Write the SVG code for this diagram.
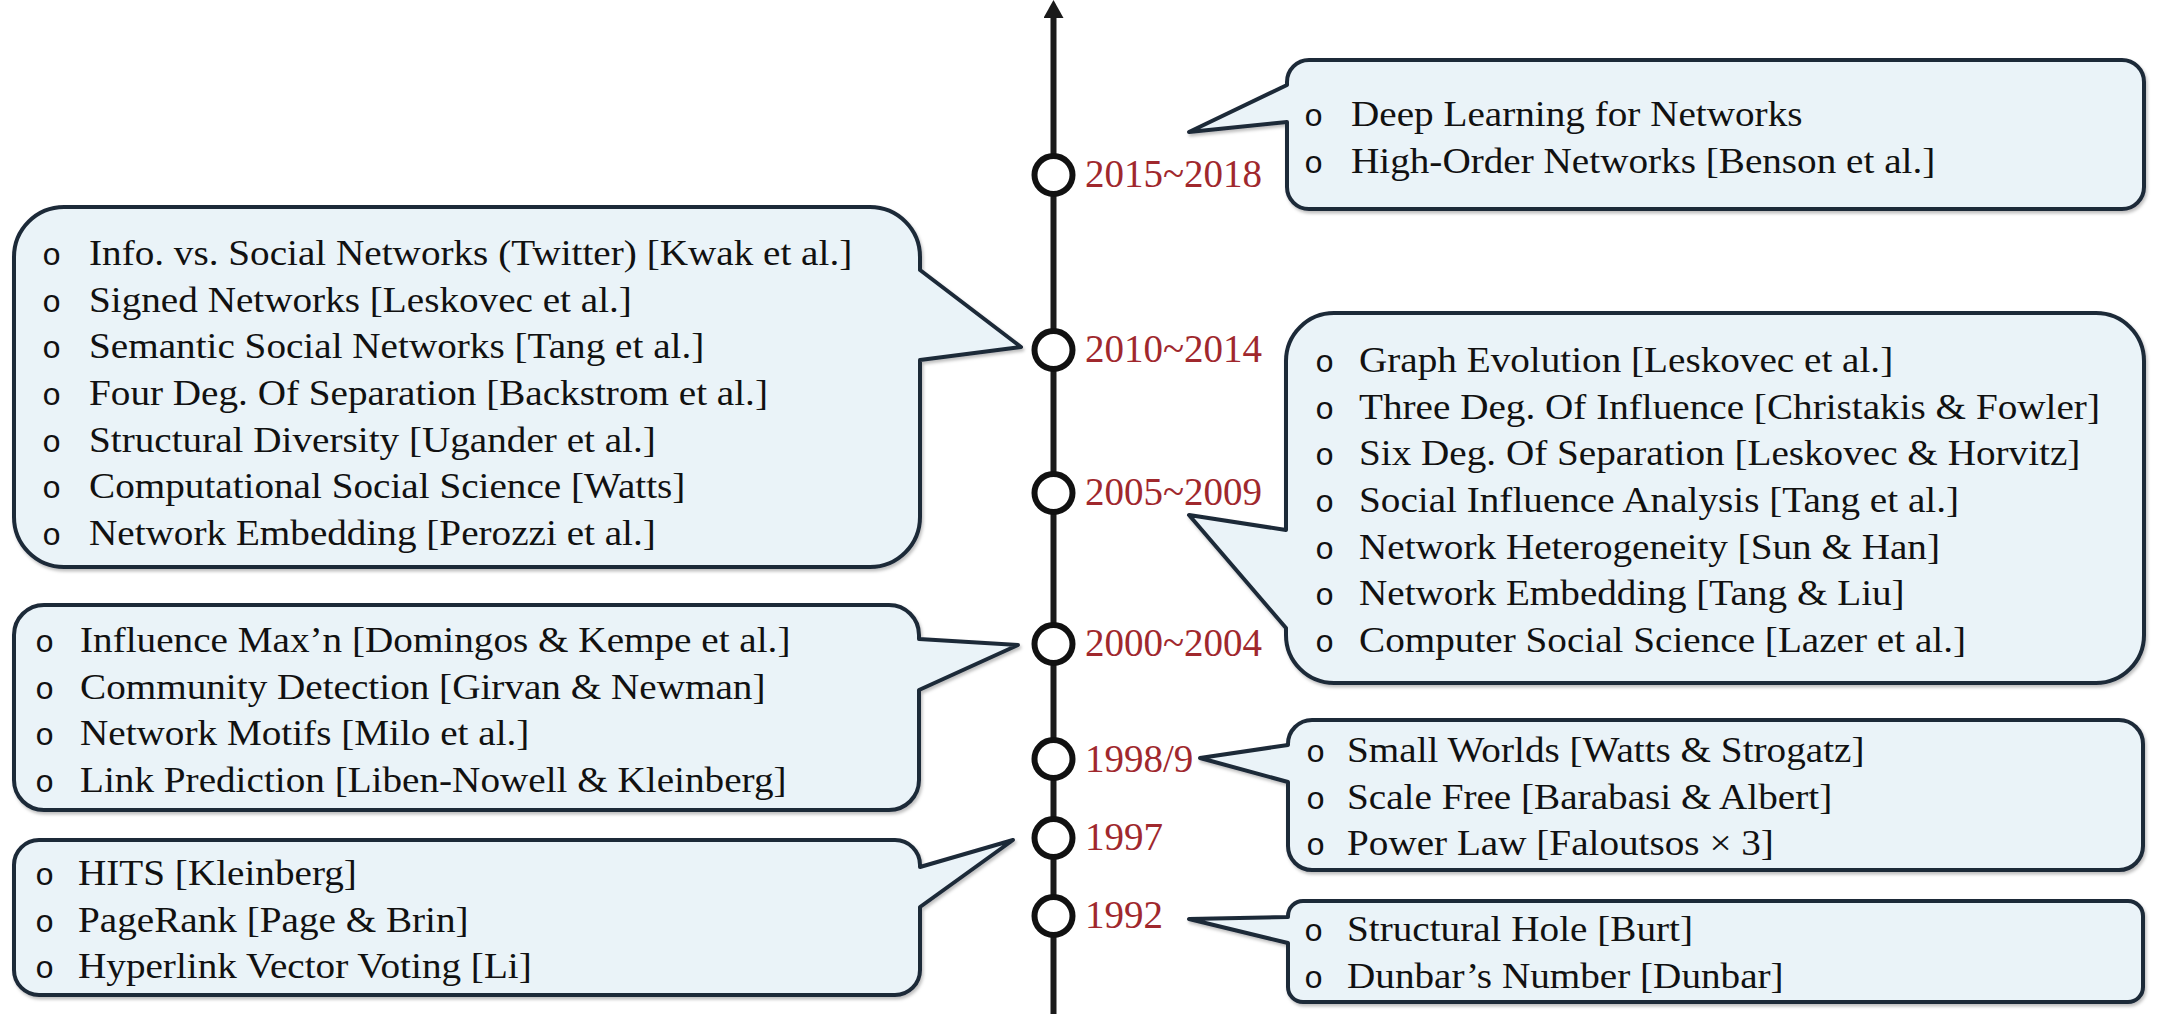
<svg xmlns="http://www.w3.org/2000/svg" width="2160" height="1014" viewBox="0 0 2160 1014">
<defs>
<style>
.box{fill:#eaf3f8;stroke:#1d2939;stroke-width:4;stroke-linejoin:round;filter:url(#sh)}
.t{font-family:"Liberation Serif","Times New Roman",serif;font-size:35px;fill:#111}
.b{font-family:"Liberation Mono","Courier New",monospace;font-size:32px;fill:#111}
.yr{font-family:"Liberation Serif","Times New Roman",serif;font-size:39px;fill:#a0282d}
.mk{fill:#fff;stroke:#111;stroke-width:6}
</style>
<filter id="sh" x="-5%" y="-5%" width="110%" height="115%">
<feDropShadow dx="1.5" dy="2.5" stdDeviation="1.5" flood-color="#000" flood-opacity="0.25"/>
</filter>
<marker id="arrow" viewBox="0 0 18 20" refX="0" refY="10" markerWidth="18" markerHeight="20" markerUnits="userSpaceOnUse" orient="auto">
<path d="M0,0 L18,10 L0,20 Z" fill="#1a1a1a"/>
</marker>
</defs>
<rect width="2160" height="1014" fill="#fff"/>

<g id="connectors">
<line x1="1053.5" y1="1014" x2="1053.5" y2="18" stroke="#1a1a1a" stroke-width="6" marker-end="url(#arrow)"/>
</g>

<g id="box-2015">
<path class="box" d="M1309,60 H2122 A22,22 0 0 1 2144,82 V187 A22,22 0 0 1 2122,209 H1309 A22,22 0 0 1 1287,187 V122 L1189,132 L1287,85 V82 A22,22 0 0 1 1309,60 Z"/>
<text class="b" x="1304" y="126">o</text><text class="t" transform="translate(1351,126) scale(1.12,1)">Deep Learning for Networks</text>
<text class="b" x="1304" y="173">o</text><text class="t" transform="translate(1351,173) scale(1.12,1)">High-Order Networks [Benson et al.]</text>
</g>

<g id="box-2010">
<path class="box" d="M64,207 H870 A50,50 0 0 1 920,257 V270 L1021,347 L920,360 V517 A50,50 0 0 1 870,567 H64 A50,50 0 0 1 14,517 V257 A50,50 0 0 1 64,207 Z"/>
<text class="b" x="42" y="265">o</text><text class="t" transform="translate(89,265) scale(1.12,1)">Info. vs. Social Networks (Twitter) [Kwak et al.]</text>
<text class="b" x="42" y="311.7">o</text><text class="t" transform="translate(89,311.7) scale(1.12,1)">Signed Networks [Leskovec et al.]</text>
<text class="b" x="42" y="358.3">o</text><text class="t" transform="translate(89,358.3) scale(1.12,1)">Semantic Social Networks [Tang et al.]</text>
<text class="b" x="42" y="405">o</text><text class="t" transform="translate(89,405) scale(1.12,1)">Four Deg. Of Separation [Backstrom et al.]</text>
<text class="b" x="42" y="451.7">o</text><text class="t" transform="translate(89,451.7) scale(1.12,1)">Structural Diversity [Ugander et al.]</text>
<text class="b" x="42" y="498.3">o</text><text class="t" transform="translate(89,498.3) scale(1.12,1)">Computational Social Science [Watts]</text>
<text class="b" x="42" y="545">o</text><text class="t" transform="translate(89,545) scale(1.12,1)">Network Embedding [Perozzi et al.]</text>
</g>

<g id="box-2005">
<path class="box" d="M1334,313 H2096 A48,48 0 0 1 2144,361 V635 A48,48 0 0 1 2096,683 H1334 A48,48 0 0 1 1286,635 V628 L1189,515 L1286,530 V361 A48,48 0 0 1 1334,313 Z"/>
<text class="b" x="1315" y="372">o</text><text class="t" transform="translate(1359,372) scale(1.12,1)">Graph Evolution [Leskovec et al.]</text>
<text class="b" x="1315" y="418.7">o</text><text class="t" transform="translate(1359,418.7) scale(1.12,1)">Three Deg. Of Influence [Christakis &amp; Fowler]</text>
<text class="b" x="1315" y="465.3">o</text><text class="t" transform="translate(1359,465.3) scale(1.12,1)">Six Deg. Of Separation [Leskovec &amp; Horvitz]</text>
<text class="b" x="1315" y="512">o</text><text class="t" transform="translate(1359,512) scale(1.12,1)">Social Influence Analysis [Tang et al.]</text>
<text class="b" x="1315" y="558.7">o</text><text class="t" transform="translate(1359,558.7) scale(1.12,1)">Network Heterogeneity [Sun &amp; Han]</text>
<text class="b" x="1315" y="605.3">o</text><text class="t" transform="translate(1359,605.3) scale(1.12,1)">Network Embedding [Tang &amp; Liu]</text>
<text class="b" x="1315" y="652">o</text><text class="t" transform="translate(1359,652) scale(1.12,1)">Computer Social Science [Lazer et al.]</text>
</g>

<g id="box-2000">
<path class="box" d="M44,605 H889 A30,30 0 0 1 919,635 V639 L1018,645 L919,690 V780 A30,30 0 0 1 889,810 H44 A30,30 0 0 1 14,780 V635 A30,30 0 0 1 44,605 Z"/>
<text class="b" x="35" y="652">o</text><text class="t" transform="translate(80,652) scale(1.12,1)">Influence Max’n [Domingos &amp; Kempe et al.]</text>
<text class="b" x="35" y="698.7">o</text><text class="t" transform="translate(80,698.7) scale(1.12,1)">Community Detection [Girvan &amp; Newman]</text>
<text class="b" x="35" y="745.3">o</text><text class="t" transform="translate(80,745.3) scale(1.12,1)">Network Motifs [Milo et al.]</text>
<text class="b" x="35" y="792">o</text><text class="t" transform="translate(80,792) scale(1.12,1)">Link Prediction [Liben-Nowell &amp; Kleinberg]</text>
</g>

<g id="box-1997">
<path class="box" d="M39,840 H895 A25,25 0 0 1 920,865 V867 L1013,840 L920,907 V970 A25,25 0 0 1 895,995 H39 A25,25 0 0 1 14,970 V865 A25,25 0 0 1 39,840 Z"/>
<text class="b" x="35" y="885">o</text><text class="t" transform="translate(78,885) scale(1.12,1)">HITS [Kleinberg]</text>
<text class="b" x="35" y="932">o</text><text class="t" transform="translate(78,932) scale(1.12,1)">PageRank [Page &amp; Brin]</text>
<text class="b" x="35" y="978">o</text><text class="t" transform="translate(78,978) scale(1.12,1)">Hyperlink Vector Voting [Li]</text>
</g>

<g id="box-1998">
<path class="box" d="M1312,720 H2119 A24,24 0 0 1 2143,744 V846 A24,24 0 0 1 2119,870 H1312 A24,24 0 0 1 1288,846 V782 L1200,758 L1288,745 V744 A24,24 0 0 1 1312,720 Z"/>
<text class="b" x="1306" y="762">o</text><text class="t" transform="translate(1347,762) scale(1.12,1)">Small Worlds [Watts &amp; Strogatz]</text>
<text class="b" x="1306" y="808.7">o</text><text class="t" transform="translate(1347,808.7) scale(1.12,1)">Scale Free [Barabasi &amp; Albert]</text>
<text class="b" x="1306" y="855.3">o</text><text class="t" transform="translate(1347,855.3) scale(1.12,1)">Power Law [Faloutsos × 3]</text>
</g>

<g id="box-1992">
<path class="box" d="M1303,901 H2128 A15,15 0 0 1 2143,916 V987 A15,15 0 0 1 2128,1002 H1303 A15,15 0 0 1 1288,987 V943 L1189,919 L1288,917 V916 A15,15 0 0 1 1303,901 Z"/>
<text class="b" x="1304" y="941">o</text><text class="t" transform="translate(1347,941) scale(1.12,1)">Structural Hole [Burt]</text>
<text class="b" x="1304" y="988">o</text><text class="t" transform="translate(1347,988) scale(1.12,1)">Dunbar’s Number [Dunbar]</text>
</g>

<g id="year-2015"><circle class="mk" cx="1053.5" cy="175" r="19"/><text class="yr" x="1085" y="187">2015~2018</text></g>
<g id="year-2010"><circle class="mk" cx="1053.5" cy="350" r="19"/><text class="yr" x="1085" y="362">2010~2014</text></g>
<g id="year-2005"><circle class="mk" cx="1053.5" cy="493" r="19"/><text class="yr" x="1085" y="505">2005~2009</text></g>
<g id="year-2000"><circle class="mk" cx="1053.5" cy="644" r="19"/><text class="yr" x="1085" y="656">2000~2004</text></g>
<g id="year-1998"><circle class="mk" cx="1053.5" cy="759" r="19"/><text class="yr" x="1085" y="772">1998/9</text></g>
<g id="year-1997"><circle class="mk" cx="1053.5" cy="838" r="19"/><text class="yr" x="1085" y="850">1997</text></g>
<g id="year-1992"><circle class="mk" cx="1053.5" cy="916" r="19"/><text class="yr" x="1085" y="928">1992</text></g>
</svg>
